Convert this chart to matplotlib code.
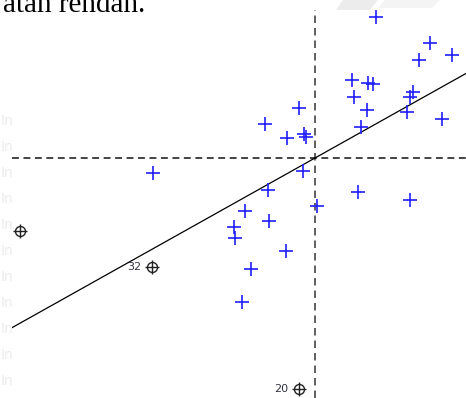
import matplotlib
matplotlib.use("Agg")
import matplotlib.pyplot as plt
from matplotlib.patches import Polygon
import numpy as np

# Standardized values (z) and their spatial lags (Wz)
z_vals = [1.22, 2.30, 2.08, 2.74, 0.74, 1.06, 1.16, 0.78, 1.04, -0.32, -1.00,
          0.92, 1.90, 1.96, 1.84, 2.54, -0.56, -0.22, -0.18, -3.24, -0.24,
          -0.94, 0.86, 1.90, 0.04, -1.40, -0.92, -1.62, -1.60, -0.58, -1.28,
          -1.46]
wz_vals = [2.82, 2.30, 1.96, 2.06, 1.56, 1.50, 1.48, 1.22, 0.96, 1.00, 0.68,
           0.62, 1.22, 1.32, 0.92, 0.78, 0.40, 0.48, 0.42, -0.30, -0.26,
           -0.64, -0.68, -0.84, -0.96, -1.06, -1.26, -1.38, -1.60, -1.86,
           -2.22, -2.88]
# Influential observations
infl_z = [-5.90, -3.26, -0.32]
infl_wz = [-1.46, -2.18, -4.62]
infl_labels = ["", "32", "20"]
moran_slope = 0.56

W, H = 466, 398
fig = plt.figure(figsize=(W / 100, H / 100), dpi=100)

# faint watermark
for k in range(11):
    fig.text(0.5 / W, 1 - (121 + 26 * k) / H, "In", fontsize=10, color="#ececec",
             va="center", ha="left", zorder=0)
fig.patches.append(Polygon([(343 / W, 1.0), (378 / W, 1.0), (370 / W, 1 - 10 / H),
                            (336 / W, 1 - 10 / H)], closed=True,
                           transform=fig.transFigure, facecolor="#ececec",
                           edgecolor="none", zorder=0))
fig.patches.append(Polygon([(385 / W, 1.0), (440 / W, 1.0), (432 / W, 1 - 8 / H),
                            (378 / W, 1 - 8 / H)], closed=True,
                           transform=fig.transFigure, facecolor="#f4f4f4",
                           edgecolor="none", zorder=0))

ax = fig.add_axes([12 / W, 0, 1 - 12 / W, 1 - 10 / H])
ax.patch.set_alpha(0)
ax.set_xlim(-6.06, 3.02)
ax.set_ylim(-4.80, 2.96)
ax.axis("off")

ax.axvline(0, color="#444444", lw=1.2, ls=(0, (4.5, 3)), zorder=1)
ax.axhline(0, color="#111111", lw=1.1, ls=(0, (4.5, 3)), zorder=1)
xs = np.array([-6.06, 3.02])
ax.plot(xs, moran_slope * xs, color="black", lw=0.9, zorder=2)

ax.plot(z_vals, wz_vals, ls="none", marker="+", ms=9.5, mew=1.2,
        color="#2020ff", zorder=3)
ax.plot(infl_z, infl_wz, ls="none", marker="o", ms=7.2, mfc="none",
        mec="#222222", mew=1.0, zorder=3)
ax.plot(infl_z, infl_wz, ls="none", marker="+", ms=10, mew=1.0,
        color="#222222", zorder=3)
for x, y, lab in zip(infl_z, infl_wz, infl_labels):
    if lab:
        ax.annotate(lab, (x, y), xytext=(-8, 0), textcoords="offset points",
                    ha="right", va="center", fontsize=8, color="#333344")

fig.text(145 / W, 1 - 12 / H, "atan rendah.", fontsize=21,
         family="Liberation Serif", ha="right", va="baseline", color="black")

fig.savefig("out.png", dpi=100)
